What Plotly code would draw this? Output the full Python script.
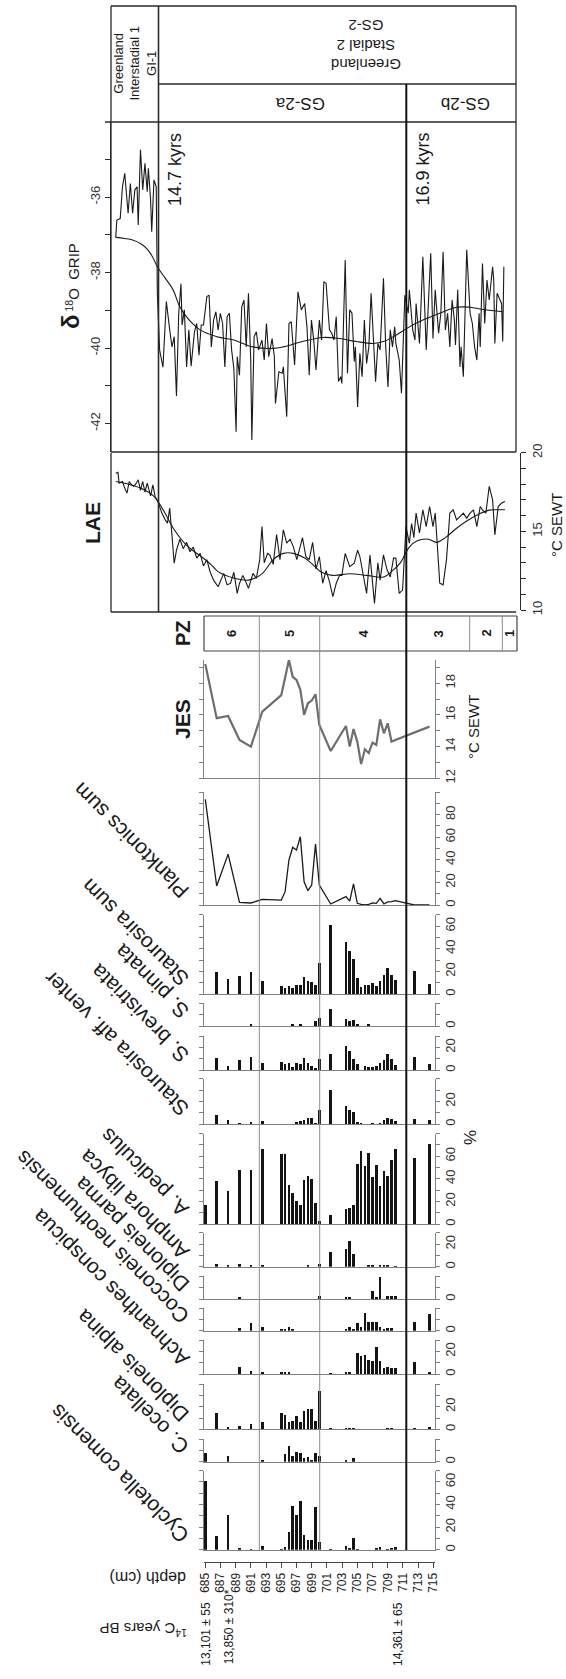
import plotly.graph_objects as go

W, H = 566, 1679


def fx(p):
    return p / W


def fy(p):
    return 1 - p / H


# ============================ DATA ============================
depth_cm = [685, 686.5, 688, 689.5, 691, 692.5, 695, 695.5, 696, 696.5, 697, 697.5,
            698, 698.5, 699, 699.5, 700, 701.5, 703.5, 704, 704.5, 705, 705.5, 706,
            706.5, 707, 707.5, 708, 708.5, 709, 709.5, 710, 712.5, 714.5]

planktonics_sum = [93.5, 16.8, 45.0, 2.4, 1.8, 5.0, 4.4, 11.8, 39.8, 51.0, 48.7, 60.4,
                   20.6, 12.7, 17.7, 54.0, 17.7, 0.9, 7.4, 3.5, 18.6, 1.5, 0.6, 0.0,
                   0.6, 1.8, 1.5, 5.9, 0.9, 2.7, 3.0, 3.8, 0.0, 0.0]
staurosira_sum = [0, 19.5, 13.3, 16.2, 19.5, 11.8, 6.8, 5.3, 6.8, 5.3, 8.3, 7.7,
                  15.0, 11.2, 10.3, 7.7, 27.4, 61.0, 45.7, 37.8, 31.0, 13.9, 5.9, 8.3,
                  7.7, 9.7, 7.4, 11.8, 17.1, 23.0, 16.5, 12.4, 20.6, 9.1]
s_pinnata = [0, 0, 0, 0, 1.0, 0, 0, 0, 0, 1.0, 0, 1.0,
             0, 0, 0, 3.8, 6.8, 15.0, 5.9, 3.8, 5.0, 0.9, 0, 0,
             1.8, 0, 0, 0, 0, 0, 0, 0, 0, 0]
s_brevistriata = [0, 10.3, 3.5, 8.8, 11.2, 6.5, 7.4, 5.3, 5.9, 2.9, 5.9, 5.3,
                  10.3, 6.5, 3.5, 1.5, 9.4, 14.2, 21.5, 16.8, 9.7, 5.3, 0, 3.8,
                  2.9, 2.9, 3.5, 5.9, 8.8, 13.9, 9.4, 4.4, 11.2, 5.3]
s_aff_venter = [0, 8.0, 3.5, 1.2, 2.0, 3.0, 0, 0, 0, 0, 2.0, 2.6,
                4.0, 5.6, 5.6, 1.2, 13.0, 30.7, 16.2, 13.0, 10.9, 2.0, 1.2, 0,
                0, 1.0, 0, 1.0, 3.5, 5.6, 5.0, 2.6, 4.4, 3.5]
a_pediculus = [17.4, 38.0, 29.5, 47.8, 47.8, 66.4, 62.5, 62.5, 34.5, 27.7, 20.4, 16.8,
               39.5, 42.8, 40.4, 18.9, 3.0, 8.6, 13.9, 14.5, 16.8, 53.7, 64.9, 51.3,
               63.4, 41.9, 52.2, 33.9, 47.2, 42.8, 56.6, 67.0, 58.7, 71.4]
amphora_libyca = [0, 2.4, 2.0, 3.0, 1.0, 1.0, 0, 0, 0, 0, 0, 0,
                  0, 1.2, 0, 0, 3.0, 13.3, 16.2, 22.7, 11.8, 0, 0, 0,
                  0.9, 1.5, 0, 2.0, 1.5, 1.2, 0, 0.6, 0, 0]
diploneis_parma = [0, 0, 0, 1.0, 0, 0, 0, 0, 0, 0, 0, 0,
                   0, 0, 0, 0, 2.0, 0, 1.5, 1.2, 0, 0, 0, 0,
                   0, 6.5, 1.2, 18.9, 0, 2.0, 2.0, 2.0, 0, 0]
cocconeis_neothumensis = [0, 0, 0, 2.0, 6.5, 3.0, 1.2, 0.6, 3.0, 1.2, 0, 0,
                          0, 0, 0, 0, 0, 0, 1.2, 3.0, 0.6, 6.5, 3.0, 15.3,
                          8.0, 7.4, 8.0, 3.0, 1.5, 2.0, 2.0, 0, 7.4, 14.5]
achnanthes_conspicua = [0, 0, 0, 5.9, 2.7, 1.2, 1.2, 1.0, 1.8, 0, 0, 0,
                        0, 0, 0, 0, 0, 0.6, 1.2, 1.8, 0, 18.9, 15.9, 17.1,
                        12.4, 11.8, 24.2, 11.2, 5.0, 5.9, 5.6, 5.0, 10.3, 2.0]
diploneis_alpina = [0, 14.7, 1.8, 2.9, 4.4, 6.2, 14.7, 12.7, 6.8, 7.7, 11.8, 6.8,
                    16.5, 17.7, 18.0, 7.7, 34.0, 1.2, 0.6, 0.9, 1.2, 0, 0, 0,
                    0, 0, 0, 0, 0, 1.5, 1.2, 0, 1.2, 1.8]
c_ocellata = [8.0, 0, 5.3, 0, 0, 0.9, 0, 6.8, 14.2, 5.0, 8.8, 7.4,
              3.0, 3.8, 1.5, 7.4, 5.0, 0, 0.9, 0, 3.5, 0, 0, 0,
              0, 0, 0, 0, 0, 0, 0, 0, 0, 0]
cyclotella_comensis = [60.8, 12.1, 30.7, 1.8, 1.2, 3.2, 1.2, 2.7, 15.9, 38.9, 30.7, 43.4,
                       13.6, 8.6, 8.6, 38.0, 7.1, 1.2, 3.2, 1.5, 10.9, 1.2, 0, 0,
                       0, 0, 1.8, 2.4, 0, 1.2, 1.5, 2.7, 0, 0]
jes_sewt = [19.21, 15.79, 15.93, 14.42, 14.0, 16.2, 17.25, 18.3, 19.46, 18.4, 18.2, 17.6,
            16.0, 16.73, 16.9, 17.3, 15.36, 13.72, 15.3, 14.0, 15.11, 14.3, 12.9, 13.83,
            13.6, 14.25, 14.1, 15.72, 14.84, 15.47, 14.31, 14.42, None, 15.26]

depth_ticks = [685, 687, 689, 691, 693, 695, 697, 699, 701, 703, 705, 707, 709, 711, 713, 715]

grip_age = [14.32, 14.33, 14.36, 14.38, 14.40, 14.43, 14.45, 14.47, 14.49, 14.51, 14.52, 14.54,
            14.56, 14.58, 14.60, 14.61, 14.63, 14.64, 14.66, 14.68, 14.69, 14.71, 14.74, 14.77,
            14.80, 14.82, 14.84, 14.86, 14.88, 14.90, 14.91, 14.93, 14.95, 14.97, 14.99, 15.02,
            15.04, 15.06, 15.08, 15.10, 15.13, 15.15, 15.17, 15.19, 15.21, 15.23, 15.25, 15.27,
            15.29, 15.31, 15.33, 15.35, 15.37, 15.39, 15.40, 15.42, 15.44, 15.46, 15.48, 15.50,
            15.52, 15.53, 15.55, 15.57, 15.59, 15.62, 15.64, 15.66, 15.68, 15.71, 15.73, 15.74,
            15.77, 15.80, 15.81, 15.84, 15.86, 15.88, 15.91, 15.94, 15.97, 16.00, 16.02, 16.04,
            16.06, 16.08, 16.10, 16.13, 16.15, 16.17, 16.19, 16.22, 16.24, 16.26, 16.28, 16.30,
            16.32, 16.33, 16.36, 16.38, 16.40, 16.42, 16.44, 16.45, 16.47, 16.49, 16.51, 16.53,
            16.55, 16.57, 16.59, 16.61, 16.63, 16.65, 16.67, 16.70, 16.72, 16.74, 16.76, 16.78,
            16.80, 16.81, 16.84, 16.86, 16.87, 16.89, 16.92, 16.93, 16.96, 16.98, 16.99, 17.02,
            17.04, 17.05, 17.08, 17.10, 17.12, 17.14, 17.16, 17.19, 17.21, 17.23, 17.25, 17.27,
            17.29, 17.31, 17.33, 17.34, 17.36, 17.38, 17.39, 17.41, 17.42, 17.44, 17.47, 17.49,
            17.51, 17.53, 17.55, 17.56, 17.58, 17.60, 17.62, 17.64, 17.67, 17.68, 17.69, 17.71,
            17.73, 17.75, 17.76, 17.77]
grip_d18o = [-37.07, -36.61, -36.57, -35.73, -35.37, -36.43, -35.64, -36.43, -35.81, -35.73, -36.74, -34.75,
             -35.81, -35.11, -35.86, -35.24, -36.08, -36.92, -35.55, -35.73, -38.55, -40.05, -40.51, -38.77,
             -39.52, -39.97, -39.70, -41.27, -39.08, -38.30, -39.39, -38.99, -40.50, -39.52, -40.48, -39.57,
             -39.35, -40.19, -39.39, -39.39, -38.64, -38.60, -39.97, -39.26, -39.04, -39.52, -39.08, -39.35,
             -40.50, -39.17, -39.08, -40.05, -40.54, -42.22, -40.23, -40.72, -38.91, -38.73, -39.97, -38.55,
             -40.32, -42.44, -39.70, -39.57, -40.05, -39.79, -40.32, -39.35, -40.23, -39.75, -40.23, -41.47,
             -40.63, -40.67, -40.50, -41.82, -39.35, -39.30, -40.45, -38.51, -38.99, -38.82, -39.44, -40.72,
             -39.26, -39.79, -40.58, -39.26, -39.79, -38.24, -38.29, -39.52, -39.61, -39.79, -39.17, -40.89,
             -40.76, -40.94, -37.67, -40.67, -38.99, -39.08, -40.36, -39.97, -41.56, -40.14, -40.76, -39.26,
             -40.41, -39.97, -38.55, -39.57, -40.89, -39.88, -40.05, -38.15, -39.97, -41.03, -39.52, -39.97,
             -39.44, -39.88, -40.32, -41.20, -40.41, -38.60, -39.08, -38.46, -39.52, -39.79, -38.82, -39.88,
             -38.38, -37.58, -40.05, -38.73, -37.49, -39.75, -38.46, -39.61, -39.08, -37.45, -39.52, -39.08,
             -39.97, -38.73, -39.26, -39.92, -38.46, -40.50, -39.97, -40.76, -39.79, -37.40, -39.08, -39.35,
             -39.97, -40.32, -39.08, -39.97, -37.76, -39.35, -38.20, -38.73, -37.85, -38.20, -39.88, -38.55,
             -38.69, -38.82, -39.83, -37.85]
grip_smooth_age = [14.32, 14.40, 14.47, 14.55, 14.60, 14.65, 14.69, 14.76, 14.83, 14.89, 14.97, 15.07,
                   15.22, 15.37, 15.54, 15.72, 15.81, 15.98, 16.16, 16.31, 16.46, 16.61, 16.70, 16.81,
                   16.93, 17.05, 17.20, 17.35, 17.47, 17.59, 17.76]
grip_smooth = [-37.07, -37.10, -37.14, -37.25, -37.38, -37.60, -37.85, -38.15, -38.46, -38.91, -39.25, -39.52,
               -39.70, -39.79, -39.97, -40.01, -39.97, -39.83, -39.72, -39.75, -39.83, -39.88, -39.83, -39.66,
               -39.44, -39.26, -39.08, -38.92, -38.92, -38.98, -39.04]

lae_age = [14.32, 14.34, 14.35, 14.38, 14.40, 14.42, 14.44, 14.46, 14.48, 14.50, 14.52, 14.54,
           14.56, 14.58, 14.60, 14.63, 14.65, 14.67, 14.70, 14.73, 14.76, 14.78, 14.80, 14.82,
           14.84, 14.86, 14.89, 14.92, 14.95, 14.98, 15.01, 15.04, 15.07, 15.10, 15.13, 15.16,
           15.19, 15.23, 15.28, 15.31, 15.34, 15.37, 15.40, 15.42, 15.45, 15.47, 15.50, 15.54,
           15.57, 15.60, 15.62, 15.64, 15.67, 15.69, 15.72, 15.75, 15.78, 15.81, 15.84, 15.87,
           15.90, 15.93, 15.96, 15.98, 16.01, 16.04, 16.07, 16.10, 16.13, 16.16, 16.19, 16.22,
           16.25, 16.28, 16.31, 16.33, 16.36, 16.40, 16.44, 16.47, 16.49, 16.52, 16.55, 16.58,
           16.62, 16.65, 16.67, 16.70, 16.73, 16.76, 16.79, 16.81, 16.84, 16.87, 16.90, 16.93,
           16.95, 16.97, 16.99, 17.02, 17.05, 17.08, 17.11, 17.14, 17.16, 17.19, 17.20, 17.23,
           17.26, 17.29, 17.32, 17.35, 17.38, 17.41, 17.44, 17.47, 17.50, 17.53, 17.56, 17.58,
           17.61, 17.64, 17.67, 17.69, 17.72, 17.75, 17.78]
lae_sewt = [18.70, 18.75, 18.07, 18.17, 17.75, 17.43, 18.17, 17.96, 17.86, 18.03, 18.28, 17.60,
            18.17, 17.50, 18.07, 17.26, 17.96, 17.22, 16.80, 16.16, 15.73, 15.52, 16.48, 14.67,
            12.97, 13.80, 14.50, 13.90, 14.30, 13.70, 14.00, 13.30, 13.60, 12.80, 13.20, 12.40,
            11.90, 11.48, 12.33, 11.60, 11.69, 12.40, 11.06, 11.69, 12.20, 11.90, 11.38, 12.33,
            12.01, 13.20, 15.30, 13.00, 13.60, 13.50, 12.90, 14.80, 13.20, 15.10, 14.25, 14.50,
            14.00, 13.20, 14.00, 14.60, 13.40, 13.20, 14.30, 12.60, 13.40, 11.70, 12.50, 11.80,
            10.85, 11.70, 12.20, 12.20, 13.60, 12.76, 12.97, 13.80, 13.40, 12.30, 11.06, 13.50,
            10.42, 13.00, 11.90, 13.50, 12.60, 12.10, 13.30, 13.30, 11.06, 11.27, 15.30, 14.25,
            15.50, 14.60, 16.16, 14.90, 16.37, 15.30, 16.58, 15.30, 16.16, 12.87, 11.70, 11.60,
            13.20, 16.16, 16.37, 15.73, 15.95, 16.16, 15.84, 16.16, 16.37, 15.30, 16.58, 16.37,
            16.16, 17.86, 17.00, 14.78, 16.58, 16.80, 16.90]
lae_smooth_age = [14.32, 14.42, 14.54, 14.66, 14.75, 14.84, 14.96, 15.08, 15.17, 15.23, 15.38, 15.50,
                  15.62, 15.72, 15.81, 15.90, 16.00, 16.07, 16.15, 16.25, 16.40, 16.55, 16.70, 16.78,
                  16.85, 16.93, 17.00, 17.10, 17.17, 17.25, 17.35, 17.45, 17.55, 17.64, 17.72, 17.78]
lae_smooth = [18.17, 18.03, 17.75, 17.22, 16.26, 15.10, 14.04, 13.40, 12.87, 12.44, 12.01, 11.90,
              12.30, 13.20, 13.60, 13.60, 13.30, 12.90, 12.40, 12.20, 12.30, 12.20, 12.10, 12.50,
              13.00, 14.00, 14.40, 14.50, 14.30, 14.60, 15.20, 15.70, 16.10, 16.35, 16.37, 16.37]

# ============================ LAYOUT GEOMETRY ============================
D0, D1 = 684.83, 715.18           # depth range of the diagram columns
XL, XR = 204.0, 434.7             # pixel extent of the depth columns
PCT = 1.13                        # pixels per percent
AGE0, AGE1 = 14.278, 17.878       # GRIP / LAE time range (kyr)
AX = '#808080'
INK = '#1a1a1a'
FONT = 'Liberation Sans, Arial, Helvetica, sans-serif'

panels = [
    ("Planktonics sum", planktonics_sum, "line", 905.0, 100, [0, 20, 40, 60, 80]),
    ("Staurosira sum", staurosira_sum, "bar", 994.0, 70, [0, 20, 40, 60]),
    ("S. pinnata", s_pinnata, "bar", 1026.0, 20, [0]),
    ("S. brevistriata", s_brevistriata, "bar", 1070.0, 30, [0, 20]),
    ("Staurosira aff. venter", s_aff_venter, "bar", 1124.0, 40, [0, 20]),
    ("A. pediculus", a_pediculus, "bar", 1224.0, 80, [0, 20, 40, 60]),
    ("Amphora libyca", amphora_libyca, "bar", 1266.7, 30, [0, 20]),
    ("Diploneis parma", diploneis_parma, "bar", 1299.0, 20, [0]),
    ("Cocconeis neothumensis", cocconeis_neothumensis, "bar", 1330.7, 20, [0]),
    ("Achnanthes conspicua", achnanthes_conspicua, "bar", 1374.0, 30, [0, 20]),
    ("Diploneis alpina", diploneis_alpina, "bar", 1429.3, 40, [0, 20]),
    ("C. ocellata", c_ocellata, "bar", 1461.7, 20, [0]),
    ("Cyclotella comensis", cyclotella_comensis, "bar", 1549.7, 70, [0, 20, 40, 60]),
]

fig = go.Figure()
layout = {}
annotations = []
shapes = []


def ann(text, x, y, angle=0, size=13, xanchor='center', yanchor='middle', color=INK):
    annotations.append(dict(text=text, x=fx(x), y=fy(y), xref='paper', yref='paper',
                            textangle=angle, xanchor=xanchor, yanchor=yanchor,
                            showarrow=False, font=dict(size=size, color=color, family=FONT)))


def line(x0, y0, x1, y1, color='#2a2a2a', width=1.3):
    shapes.append(dict(type='line', xref='paper', yref='paper', x0=fx(x0), x1=fx(x1),
                       y0=fy(y0), y1=fy(y1), line=dict(color=color, width=width)))


def value_axis(base, top, vmax, labels, anchor, minor_dtick, tick0=0, vmin=0):
    return dict(domain=[fy(base), fy(top)], range=[vmin, vmax], anchor=anchor, side='right',
                showline=True, linecolor=AX, linewidth=1, mirror='ticks', ticks='outside',
                ticklen=4, tickcolor=AX, tickmode='array', tickvals=labels,
                ticktext=[str(v) for v in labels], tickangle=-90,
                tickfont=dict(size=13, color='#333', family=FONT),
                minor=dict(tickmode='linear', tick0=tick0, dtick=minor_dtick, ticks='outside',
                           ticklen=4, tickcolor=AX),
                showgrid=False, zeroline=False)


def base_axis(anchor):
    return dict(domain=[fx(XL), fx(XR)], range=[D0, D1], anchor=anchor, showline=True,
                linecolor=AX, linewidth=1, ticks='', showticklabels=False,
                showgrid=False, zeroline=False)


# ---------------- diatom / planktonic columns ----------------
for i, (name, vals, kind, base, vmax, labels) in enumerate(panels):
    n = i + 2
    top = base - vmax * PCT
    xa, ya = f'x{n}', f'y{n}'
    if kind == 'bar':
        fig.add_trace(go.Bar(x=depth_cm, y=vals, xaxis=xa, yaxis=ya, width=0.36,
                             marker=dict(color='#141414', line=dict(width=0))))
    else:
        fig.add_trace(go.Scatter(x=depth_cm, y=vals, xaxis=xa, yaxis=ya, mode='lines',
                                 line=dict(color=INK, width=1.3)))
    layout[f'xaxis{n}'] = base_axis(ya)
    layout[f'yaxis{n}'] = value_axis(base, top, vmax, labels, xa, 10)
    ann(name, 196, base, angle=-135, size=21, xanchor='right', yanchor='bottom')

# ---------------- JES column ----------------
JES_BASE, JES_TOP = 778.3, 660.0
fig.add_trace(go.Scatter(x=depth_cm, y=jes_sewt, xaxis='x15', yaxis='y15', mode='lines',
                         connectgaps=True, line=dict(color='#6e6e6e', width=2.2)))
layout['xaxis15'] = base_axis('y15')
layout['yaxis15'] = value_axis(JES_BASE, JES_TOP, 19.46, [12, 14, 16, 18], 'x15', 1,
                               tick0=12, vmin=12)

# ---------------- depth axis ----------------
fig.add_trace(go.Scatter(x=[depth_cm[0]], y=[None], xaxis='x', yaxis='y', mode='markers',
                         hoverinfo='skip'))
layout['xaxis'] = dict(domain=[fx(XL), fx(XR)], range=[D0, D1], anchor='free',
                       position=fy(1562), side='bottom', showline=True, linecolor='#444',
                       ticks='outside', ticklen=5, tickcolor='#444', tickmode='array',
                       tickvals=depth_ticks, ticktext=[str(v) for v in depth_ticks],
                       tickangle=-90, tickfont=dict(size=12, color='#222', family=FONT),
                       showgrid=False, zeroline=False)
layout['yaxis'] = dict(domain=[fy(1549.7), fy(1470.0)], visible=False, range=[0, 1])

# ---------------- GRIP ----------------
fig.add_trace(go.Scatter(x=grip_age, y=grip_d18o, xaxis='x16', yaxis='y16', mode='lines',
                         line=dict(color=INK, width=1.1)))
fig.add_trace(go.Scatter(x=grip_smooth_age, y=grip_smooth, xaxis='x16', yaxis='y16',
                         mode='lines', line=dict(color=INK, width=1.1, shape='spline')))
layout['xaxis16'] = dict(domain=[fx(111), fx(516)], range=[AGE0, AGE1], anchor='y16',
                         visible=False)
grip_ticks = [-42, -40, -38, -36]
layout['yaxis16'] = dict(domain=[fy(452), fy(122)], range=[-42.755, -34.013], anchor='x16',
                         side='left', showline=True, linecolor='#2a2a2a', ticks='outside',
                         ticklen=5, tickcolor='#2a2a2a', tickmode='array', tickvals=grip_ticks,
                         ticktext=[str(v) for v in grip_ticks], tickangle=-90,
                         tickfont=dict(size=13, color='#333', family=FONT),
                         minor=dict(tickmode='linear', tick0=-42, dtick=1, ticks='outside',
                                    ticklen=5, tickcolor='#2a2a2a'),
                         showgrid=False, zeroline=False)

# ---------------- LAE ----------------
fig.add_trace(go.Scatter(x=lae_age, y=lae_sewt, xaxis='x17', yaxis='y17', mode='lines',
                         line=dict(color=INK, width=1.1)))
fig.add_trace(go.Scatter(x=lae_smooth_age, y=lae_smooth, xaxis='x17', yaxis='y17',
                         mode='lines', line=dict(color=INK, width=1.1, shape='spline')))
layout['xaxis17'] = dict(domain=[fx(111), fx(516)], range=[AGE0, AGE1], anchor='y17',
                         visible=False)
layout['yaxis17'] = dict(domain=[fy(610), fy(452.7)], range=[10, 20], anchor='free',
                         position=fx(520), side='right', showline=True, linecolor='#2a2a2a',
                         ticks='outside', ticklen=5, tickcolor='#2a2a2a', tickmode='array',
                         tickvals=[10, 15, 20], ticktext=['10', '15', '20'], tickangle=-90,
                         tickfont=dict(size=13, color='#333', family=FONT),
                         minor=dict(tickmode='linear', tick0=10, dtick=1, ticks='outside',
                                    ticklen=5, tickcolor='#2a2a2a'),
                         showgrid=False, zeroline=False)

# ---------------- frames and zone lines ----------------
line(111, 6, 516, 6)
line(158.5, 84, 516, 84)
line(105, 122, 516, 122)
line(111, 452, 516, 452)
line(111, 612, 516, 612)
line(111, 6, 111, 452)
line(111, 453, 111, 612)
line(516, 6, 516, 452)
line(158.5, 6, 158.5, 612, width=1.6)
# pollen zone box
line(204, 616, 517, 616, color='#444', width=1.2)
line(204, 651, 517, 651, color='#444', width=1.2)
line(204, 616, 204, 651, color='#444', width=1.2)
line(517, 616, 517, 651, color='#444', width=1.2)
line(469.7, 616, 469.7, 651, color='#8a8a8a', width=1)
line(502.3, 616, 502.3, 651, color='#8a8a8a', width=1)
line(259.3, 616, 259.3, 1550, color='#8a8a8a', width=1)
line(319.7, 616, 319.7, 1550, color='#8a8a8a', width=1)
line(406.3, 84, 406.3, 1550, color='#111', width=2)

# ---------------- texts ----------------
ann('Greenland<br>Interstadial 1<br>GI-1', 134.5, 64, angle=-90, size=13)
ann('Greenland<br>Stadial 2<br>GS-2', 366, 45, angle=180, size=15)
ann('GS-2a', 300, 103, angle=180, size=17)
ann('GS-2b', 466, 103, angle=180, size=17)
ann('14.7 kyrs', 175, 170, angle=-90, size=18)
ann('16.9 kyrs', 422.5, 169, angle=-90, size=18)
ann('<b><span style="font-size:24px">δ</span></b><sup> 18</sup>O  GRIP', 70, 286,
    angle=-90, size=15)
ann('<b>LAE</b>', 92, 523, angle=-90, size=21)
ann('°C SEWT', 556, 525, angle=-90, size=15)
ann('<b>PZ</b>', 183, 633, angle=-90, size=20)
for lab, xc in [('6', 231.6), ('5', 289.5), ('4', 363), ('3', 438), ('2', 486), ('1', 509.6)]:
    ann(f'<b>{lab}</b>', xc, 633.5, angle=-90, size=13)
ann('<b>JES</b>', 183, 719, angle=-90, size=21)
ann('°C SEWT', 473, 727, angle=-90, size=15)
ann('%', 470, 1138, angle=-90, size=17)
ann('depth (cm)', 148, 1578, angle=180, size=16)
ann('<sup>14</sup>C years BP', 143, 1630, angle=180, size=15)
ann('13,101 ± 55', 205.7, 1600, angle=-90, size=12, yanchor='top')
ann('13,850 ± 310*', 228.7, 1587, angle=-90, size=12, yanchor='top')
ann('14,361 ± 65', 398, 1600, angle=-90, size=12, yanchor='top')

layout.update(dict(width=W, height=H, margin=dict(l=0, r=0, t=0, b=0, pad=0),
                   template='none', paper_bgcolor='white', plot_bgcolor='rgba(0,0,0,0)',
                   showlegend=False, font=dict(family=FONT, color=INK),
                   annotations=annotations, shapes=shapes, bargap=0))
fig.update_layout(**layout)
fig.write_html('out.html')
